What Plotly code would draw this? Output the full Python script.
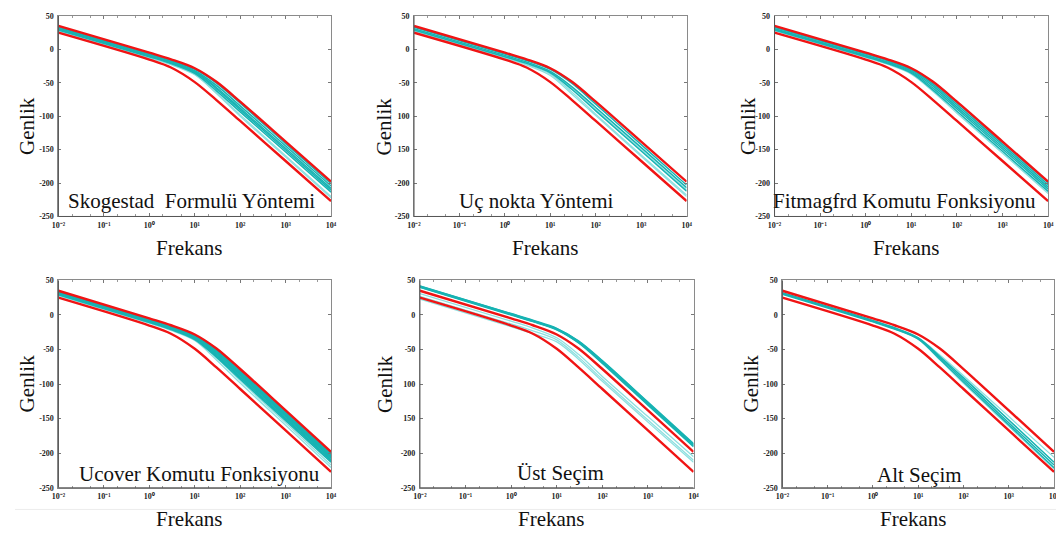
import plotly.graph_objects as go

# ---------------- data ----------------
freq = [0.01, 1, 3, 10, 30, 100, 1000, 10000]

red_upper = [35, -5, -14.9, -28.2, -48.5, -78.2, -138, -198]
red_lower = [25, -15.3, -27.2, -49, -75.9, -107.1, -167, -227]

skog_cyan = [
    [33, -7, -16.9, -30, -50.5, -80.5, -141, -201],
    [32, -8, -18, -32, -54, -84.5, -144.5, -204.5],
    [31, -9, -19.2, -33.5, -57, -88, -148, -208],
    [30, -10, -20.2, -34.5, -59, -90.5, -150.5, -210.5],
    [29, -11, -21.3, -36, -62, -93.5, -153.5, -213.5],
]
skog_light = [
    [28, -12, -22.3, -37, -65, -98, -159, -220],
    [27, -13, -23, -38, -66, -100, -161, -222],
]

uc_cyan = [
    [33, -7, -16.8, -30, -51, -82, -142.5, -203],
    [31, -9, -19, -33, -56, -87, -147, -207],
    [29, -11, -21, -35, -60, -92, -152, -212],
]
uc_light = [
    [30, -10, -20, -34, -58, -90, -150, -210],
    [28, -12, -22.5, -37, -64, -97, -158, -218],
    [27, -13, -23.5, -39, -67, -99, -160, -220],
]

fit_cyan = [
    [34, -6, -15.9, -29, -49.5, -79.5, -139.5, -199.5],
    [33, -7, -17, -30.5, -52, -82.5, -142.5, -202.5],
    [31, -9, -19, -32.5, -55, -86, -146, -206],
    [30, -10, -20.2, -34, -58, -89, -149, -209],
    [29, -11, -21.2, -35.5, -61, -92.5, -152.5, -212.5],
]
fit_light = [
    [32, -8, -18, -31.5, -53.5, -84, -144, -204],
    [28, -12, -22.3, -37, -63, -95.5, -155.5, -215.5],
]

ucover_cyan = [
    [34.5, -5.5, -15.4, -28.7, -49, -79, -139, -199],
    [34, -6, -15.9, -29.2, -50, -80, -140, -200],
    [33.5, -6.5, -16.4, -29.8, -51, -81.5, -141.5, -201.5],
    [33, -7, -17, -30.5, -52, -83, -143, -203],
    [32.5, -7.5, -17.5, -31, -53.5, -84.5, -144.5, -204.5],
    [32, -8, -18, -31.5, -55, -86, -146, -206],
    [31, -9, -19, -32.5, -56.5, -87.5, -147.5, -207.5],
    [30.5, -9.5, -19.6, -33.5, -58, -89.5, -149.5, -209.5],
    [30, -10, -20.2, -34.5, -59.5, -91, -151, -211],
    [29, -11, -21.2, -35.5, -61, -93, -153, -213],
]
ucover_light = [
    [29.5, -10.5, -20.7, -35, -62, -95, -156, -217],
    [28, -12, -22.3, -37, -65, -98.5, -159.5, -220.5],
]

ust_cyan = [
    [42, 2, -7.7, -19.5, -37.5, -66, -126, -186],
    [41.5, 1.5, -8.2, -20, -38.2, -66.8, -127, -187],
    [41, 1, -8.7, -20.5, -39, -67.8, -128.2, -188.3],
    [40.5, 0.5, -9.2, -21, -39.8, -69, -129.5, -189.5],
    [40, 0, -9.7, -21.5, -40.5, -70, -130.5, -190.5],
]
ust_light = [
    [31, -9, -19, -33, -57, -89, -147, -205],
    [27, -13, -23, -36, -61, -93, -152, -210],
    [23, -17, -27, -39, -64, -96, -155, -213],
]

alt_cyan = [
    [32, -8, -18.5, -33, -60, -91, -152, -213],
    [31, -9, -19.5, -34, -62, -94, -156, -217],
    [30, -10, -20.5, -35, -64, -97, -159, -221],
]
alt_light = [
    [31.5, -8.5, -18.8, -33, -58, -88, -147, -206],
    [30.5, -9.5, -20, -35, -65, -99, -161, -223],
]

titles = ["Skogestad  Formulü Yöntemi", "Uç nokta Yöntemi", "Fitmagfrd Komutu Fonksiyonu",
          "Ucover Komutu Fonksiyonu", "Üst Seçim", "Alt Seçim"]

y_tickvals = [50, 0, -50, -100, -150, -200, -250]
y_labels_normal = ["50", "0", "-50", "-100", "-150", "-200", "-250"]
y_labels_nominus = ["50", "0", "-50", "100", "150", "-200", "-250"]

x_tickvals = [0.01, 0.1, 1, 10, 100, 1000, 10000]
x_ticktext = ["10⁻²", "10⁻¹", "10⁰", "10¹", "10²", "10³", "10⁴"]

# ---------------- layout geometry (page pixels) ----------------
OFF = 8                      # default body margin of the html page
W, H = 1064 - OFF, 540 - OFF  # figure size so it fits the window exactly


def px(x):
    return (x - OFF) / W


def py(y):
    return 1 - (y - OFF) / H


boxes = [  # x0, x1, y0, y1 (page pixels, from top-left)
    (52, 328, 12, 216),
    (412, 688, 12, 216),
    (777, 1054, 12, 216),
    (52, 328, 281, 492),
    (418, 695, 281, 492),
    (785, 1060, 281, 492),
]
panels = [
    (skog_cyan, skog_light, y_labels_normal),
    (uc_cyan, uc_light, y_labels_nominus),
    (fit_cyan, fit_light, y_labels_normal),
    (ucover_cyan, ucover_light, y_labels_normal),
    (ust_cyan, ust_light, y_labels_nominus),
    (alt_cyan, alt_light, y_labels_normal),
]
text_pos = [(187, 200), (536, 200), (909, 200), (195, 478), (560, 477), (924, 479)]
genlik_pos = [(20, 124), (382, 124), (750, 124), (20, 386), (382, 386), (753, 386)]

CYAN = "#17b3b3"
LIGHT = "#8ee0e0"
RED = "#f01414"
SERIF = "Liberation Serif, Times New Roman, serif"

fig = go.Figure()
annotations = []
shapes = []
layout = {}

for i, ((cy, lt, ylab), (x0, x1, y0, y1)) in enumerate(zip(panels, boxes)):
    n = i + 1
    xa = "x" if n == 1 else f"x{n}"
    ya = "y" if n == 1 else f"y{n}"
    for vals in lt:
        fig.add_trace(go.Scatter(x=freq, y=vals, mode="lines", xaxis=xa, yaxis=ya,
                                 line=dict(color=LIGHT, width=1.3, shape="spline", smoothing=0.9),
                                 showlegend=False, hoverinfo="skip"))
    for vals in cy:
        fig.add_trace(go.Scatter(x=freq, y=vals, mode="lines", xaxis=xa, yaxis=ya,
                                 line=dict(color=CYAN, width=1.5, shape="spline", smoothing=0.9),
                                 showlegend=False, hoverinfo="skip"))
    for vals in (red_upper, red_lower):
        fig.add_trace(go.Scatter(x=freq, y=vals, mode="lines", xaxis=xa, yaxis=ya,
                                 line=dict(color=RED, width=2.4, shape="spline", smoothing=0.9),
                                 showlegend=False, hoverinfo="skip"))

    xkey = "xaxis" if n == 1 else f"xaxis{n}"
    ykey = "yaxis" if n == 1 else f"yaxis{n}"
    layout[xkey] = dict(
        type="log", range=[-2, 4], domain=[px(x0), min(px(x1), 1)], anchor=ya,
        tickvals=x_tickvals, ticktext=x_ticktext, ticklabeloverflow="allow",
        ticks="inside", ticklen=3, tickcolor="#777", showgrid=False, zeroline=False,
        showline=True, linecolor="#8a8a8a", linewidth=1, mirror="ticks",
        minor=dict(ticks="inside", ticklen=2, tickcolor="#999", showgrid=False),
        tickfont=dict(family=SERIF, size=8, color="#222", weight="bold"),
        ticklabelstandoff=1,
    )
    layout[ykey] = dict(
        range=[-250, 50], domain=[py(y1), min(py(y0), 1)], anchor=xa,
        tickvals=y_tickvals, ticktext=ylab, ticklabeloverflow="allow",
        ticks="inside", ticklen=3, tickcolor="#777", showgrid=False, zeroline=False,
        showline=True, linecolor="#8a8a8a", linewidth=1, mirror="ticks",
        tickfont=dict(family=SERIF, size=8, color="#222", weight="bold"),
        ticklabelstandoff=2,
    )
    tx, ty = text_pos[i]
    annotations.append(dict(text=titles[i], x=px(tx), y=py(ty), xref="paper", yref="paper",
                            showarrow=False, xanchor="center", yanchor="middle",
                            font=dict(family=SERIF, size=21, color="#111")))
    annotations.append(dict(text="Frekans", x=px((x0 + x1) / 2 - 5), y=py(y1 + 32),
                            xref="paper", yref="paper", showarrow=False,
                            xanchor="center", yanchor="middle",
                            font=dict(family=SERIF, size=21, color="#111")))
    gx, gy = genlik_pos[i]
    annotations.append(dict(text="Genlik", x=px(gx), y=py(gy),
                            xref="paper", yref="paper", showarrow=False, textangle=-90,
                            xanchor="center", yanchor="middle",
                            font=dict(family=SERIF, size=21, color="#111")))
    shapes.append(dict(type="line", xref="paper", yref="paper",
                       x0=px(x0), x1=px(x0), y0=py(y1), y1=min(py(y0), 1),
                       line=dict(color="#555", width=1)))
    shapes.append(dict(type="line", xref="paper", yref="paper",
                       x0=px(x0), x1=min(px(x1), 1), y0=py(y1), y1=py(y1),
                       line=dict(color="#555", width=1)))

# faint scan line below the second row
shapes.append(dict(type="line", xref="paper", yref="paper", x0=0, x1=1,
                   y0=py(514), y1=py(514), line=dict(color="#ececec", width=1),
                   layer="below"))

fig.update_layout(
    width=W, height=H, margin=dict(l=0, r=0, t=0, b=0),
    paper_bgcolor="white", plot_bgcolor="white",
    annotations=annotations, shapes=shapes, **layout,
)

fig.write_html("out.html")
